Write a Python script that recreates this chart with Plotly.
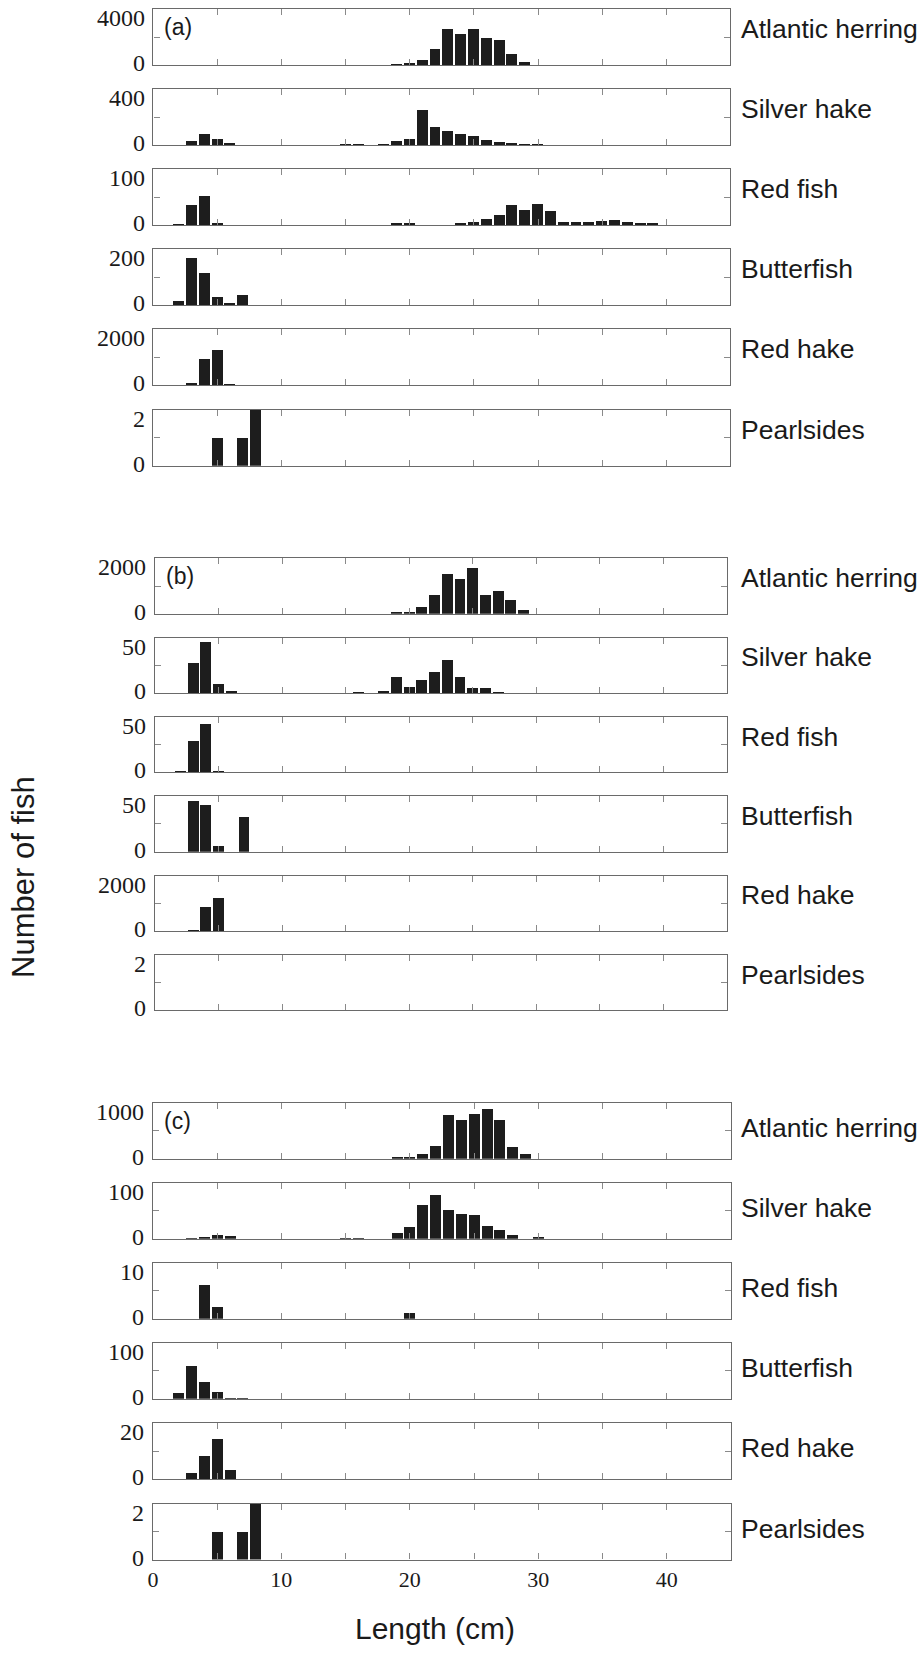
import plotly.graph_objects as go

# ---------------------------------------------------------------------------
# Length-frequency data (counts per 1-cm length class)
# ---------------------------------------------------------------------------
species = ["Atlantic herring", "Silver hake", "Red fish", "Butterfish", "Red hake", "Pearlsides"]
panel_tags = ["(a)", "(b)", "(c)"]
length_tick_vals = [0, 10, 20, 30, 40]

# y-axis upper limits for each species panel
ymax_a = [4000, 400, 100, 200, 2000, 2]
ymax_b = [2000, 50, 50, 50, 2000, 2]
ymax_c = [1000, 100, 10, 100, 20, 2]

# ---- (a) ----
herring_a_cm = [19, 20, 21, 22, 23, 24, 25, 26, 27, 28, 29]
herring_a_n = [50, 120, 360, 1170, 2570, 2190, 2570, 1900, 1790, 760, 190]
silverhake_a_cm = [3, 4, 5, 6, 15, 16, 18, 19, 20, 21, 22, 23, 24, 25, 26, 27, 28, 29, 30]
silverhake_a_n = [31, 76, 43, 10, 5, 5, 5, 31, 43, 252, 131, 102, 79, 64, 36, 24, 17, 7, 7]
redfish_a_cm = [2, 3, 4, 5, 19, 20, 24, 25, 26, 27, 28, 29, 30, 31, 32, 33, 34, 35, 36, 37, 38, 39]
redfish_a_n = [1, 35, 52, 4, 4, 2.5, 2, 5, 11, 17, 35, 26, 38, 25, 6, 6, 6, 8, 9, 5, 2, 2]
butterfish_a_cm = [2, 3, 4, 5, 6, 7]
butterfish_a_n = [16, 168, 115, 27, 5, 34]
redhake_a_cm = [3, 4, 5, 6]
redhake_a_n = [70, 930, 1260, 20]
pearlsides_a_cm = [5, 7, 8]
pearlsides_a_n = [1, 1, 2]

# ---- (b) ----
herring_b_cm = [19, 20, 21, 22, 23, 24, 25, 26, 27, 28, 29]
herring_b_n = [36, 72, 240, 680, 1440, 1260, 1630, 680, 815, 500, 110]
silverhake_b_cm = [3, 4, 5, 6, 16, 18, 19, 20, 21, 22, 23, 24, 25, 26, 27]
silverhake_b_n = [27.4, 46.7, 8.4, 2.4, 1.2, 2.4, 14.8, 6.3, 12.3, 19.6, 29.8, 14.8, 4.8, 4.8, 1.2]
redfish_b_cm = [2, 3, 4, 5]
redfish_b_n = [0.8, 28.4, 43.6, 0.8]
butterfish_b_cm = [3, 4, 5, 7]
butterfish_b_n = [45.5, 42, 4.8, 30.7]
redhake_b_cm = [3, 4, 5]
redhake_b_n = [72, 880, 1217]
pearlsides_b_cm = []
pearlsides_b_n = []

# ---- (c) ----
herring_c_cm = [19, 20, 21, 22, 23, 24, 25, 26, 27, 28, 29]
herring_c_n = [24, 24, 83, 238, 792, 690, 798, 887, 702, 208, 83]
silverhake_c_cm = [3, 4, 5, 6, 15, 16, 19, 20, 21, 22, 23, 24, 25, 26, 27, 28, 30]
silverhake_c_n = [1.2, 2.4, 6.5, 6, 1.2, 1.2, 10, 21, 60, 79, 51, 45, 42, 23, 15.5, 7, 3.6]
redfish_c_cm = [4, 5, 20]
redfish_c_n = [6.0, 2.1, 1.0]
butterfish_c_cm = [2, 3, 4, 5, 6, 7]
butterfish_c_n = [10.6, 59, 31, 12, 1, 1]
redhake_c_cm = [3, 4, 5, 6]
redhake_c_n = [2.2, 8.3, 14.2, 3.1]
pearlsides_c_cm = [5, 7, 8]
pearlsides_c_n = [1, 1, 2]

groups = [
    [(herring_a_cm, herring_a_n), (silverhake_a_cm, silverhake_a_n), (redfish_a_cm, redfish_a_n),
     (butterfish_a_cm, butterfish_a_n), (redhake_a_cm, redhake_a_n), (pearlsides_a_cm, pearlsides_a_n)],
    [(herring_b_cm, herring_b_n), (silverhake_b_cm, silverhake_b_n), (redfish_b_cm, redfish_b_n),
     (butterfish_b_cm, butterfish_b_n), (redhake_b_cm, redhake_b_n), (pearlsides_b_cm, pearlsides_b_n)],
    [(herring_c_cm, herring_c_n), (silverhake_c_cm, silverhake_c_n), (redfish_c_cm, redfish_c_n),
     (butterfish_c_cm, butterfish_c_n), (redhake_c_cm, redhake_c_n), (pearlsides_c_cm, pearlsides_c_n)],
]
group_ymax = [ymax_a, ymax_b, ymax_c]

# ---------------------------------------------------------------------------
# Page geometry (pixels)
# ---------------------------------------------------------------------------
W, H = 920, 1653
panel_tops = [
    [9.3, 89.3, 169.3, 249.3, 329.3, 409.7],
    [558.3, 637.6, 716.9, 796.2, 875.5, 954.8],
    [1102.7, 1182.7, 1262.7, 1342.7, 1423.0, 1503.5],
]
panel_h = [56, 55.5, 56]
panel_x = [(149.3, 729.3), (151.0, 726.0), (148.7, 730.0)]
name_x = 738           # left edge of the species names
name_lift = [8, 8, 3]  # species names sit slightly above the panel centre

BAR = "#1d1d1d"
FRAME = "#6a6a6a"
TICK = "#8a8a8a"
SERIF = "Liberation Serif, Times New Roman, serif"
SANS = "Liberation Sans, Arial, sans-serif"


def px_x(p):
    return p / W


def px_y(p):
    return 1 - p / H


fig = go.Figure()
annotations = []
layout_axes = {}

k = 0
for g in range(3):
    x0, x1 = panel_x[g]
    for s in range(6):
        k += 1
        sx = "" if k == 1 else str(k)
        top = panel_tops[g][s]
        bot = top + panel_h[g]
        ymax = group_ymax[g][s]
        cm, n = groups[g][s]
        bottom_panel = (g == 2 and s == 5)

        fig.add_trace(go.Bar(
            x=cm, y=n, xaxis="x" + sx, yaxis="y" + sx, width=0.85,
            marker=dict(color=BAR, line=dict(width=0)),
            showlegend=False, hoverinfo="x+y",
        ))

        if bottom_panel:
            xtv = list(range(0, 45, 5))
            xtt = [str(v) if v in length_tick_vals else "" for v in xtv]
        else:
            xtv = list(range(5, 45, 5))
            xtt = ["" for _ in xtv]

        layout_axes["xaxis" + sx] = dict(
            domain=[px_x(x0), px_x(x1)], range=[0, 45], anchor="y" + sx,
            tickmode="array", tickvals=xtv, ticktext=xtt,
            showticklabels=bottom_panel,
            ticks="inside", ticklen=6, tickwidth=1, tickcolor=TICK,
            showline=True, linecolor=FRAME, linewidth=1.2, mirror="ticks",
            showgrid=False, zeroline=False, fixedrange=True,
            tickfont=dict(family=SERIF, size=22, color="#1a1a1a"),
        )
        layout_axes["yaxis" + sx] = dict(
            domain=[px_y(bot), px_y(top)], range=[0, ymax], anchor="x" + sx,
            tickmode="array", tickvals=[0, ymax / 2, ymax], showticklabels=False,
            ticks="inside", ticklen=6, tickwidth=1, tickcolor=TICK,
            showline=True, linecolor=FRAME, linewidth=1.2, mirror="ticks",
            showgrid=False, zeroline=False, fixedrange=True,
        )

        # y tick labels (top value and zero)
        annotations.append(dict(
            x=px_x(x0 - 7), xref="paper", xanchor="right",
            y=ymax, yref="y" + sx, yanchor="middle", yshift=-9,
            text=str(ymax), showarrow=False,
            font=dict(family=SERIF, size=24, color="#1a1a1a"),
        ))
        annotations.append(dict(
            x=px_x(x0 - 7), xref="paper", xanchor="right",
            y=0, yref="y" + sx, yanchor="middle", yshift=2,
            text="0", showarrow=False,
            font=dict(family=SERIF, size=24, color="#1a1a1a"),
        ))

        # species name to the right of each panel
        annotations.append(dict(
            x=px_x(name_x), xref="paper", xanchor="left",
            y=px_y((top + bot) / 2 - name_lift[g]), yref="paper", yanchor="middle",
            text=species[s], showarrow=False,
            font=dict(family=SANS, size=26.5, color="#1a1a1a"),
        ))

        if s == 0:
            annotations.append(dict(
                x=px_x(x0 + 9), xref="paper", xanchor="left",
                y=px_y(top + 18), yref="paper", yanchor="middle",
                text=panel_tags[g], showarrow=False,
                font=dict(family=SANS, size=23, color="#1a1a1a"),
            ))

# axis titles
annotations.append(dict(
    x=px_x(18), xref="paper", xanchor="center",
    y=px_y(877), yref="paper", yanchor="middle",
    text="Number of fish", textangle=-90, showarrow=False,
    font=dict(family=SANS, size=31, color="#1a1a1a"),
))
annotations.append(dict(
    x=px_x(432), xref="paper", xanchor="center",
    y=px_y(1628), yref="paper", yanchor="middle",
    text="Length (cm)", showarrow=False,
    font=dict(family=SANS, size=30, color="#1a1a1a"),
))

fig.update_layout(
    width=W, height=H, autosize=False,
    margin=dict(l=0, r=0, t=0, b=0),
    paper_bgcolor="white", plot_bgcolor="white",
    bargap=0, annotations=annotations,
    **layout_axes,
)

fig.write_html("out.html")
